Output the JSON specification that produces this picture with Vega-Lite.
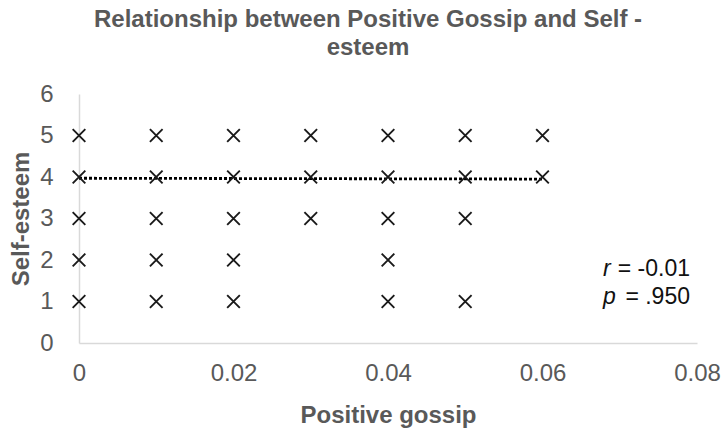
{
  "$schema": "https://vega.github.io/schema/vega-lite/v6.json",
  "width": 618,
  "height": 249,
  "autosize": "none",
  "padding": {"left": 79, "top": 94, "right": 26, "bottom": 85},
  "background": "white",
  "config": {
    "view": {"stroke": null},
    "font": "Liberation Sans"
  },
  "title": {
    "text": ["Relationship between Positive Gossip and Self  -", "esteem"],
    "font": "Liberation Sans",
    "fontSize": 24,
    "fontWeight": "bold",
    "color": "#595959",
    "anchor": "middle",
    "frame": "group",
    "dx": -20,
    "lineHeight": 28,
    "offset": 22
  },
  "datasets": {
    "points": [
      {"gossip": 0, "esteem": 1}, {"gossip": 0, "esteem": 2}, {"gossip": 0, "esteem": 3}, {"gossip": 0, "esteem": 4}, {"gossip": 0, "esteem": 5},
      {"gossip": 0.01, "esteem": 1}, {"gossip": 0.01, "esteem": 2}, {"gossip": 0.01, "esteem": 3}, {"gossip": 0.01, "esteem": 4}, {"gossip": 0.01, "esteem": 5},
      {"gossip": 0.02, "esteem": 1}, {"gossip": 0.02, "esteem": 2}, {"gossip": 0.02, "esteem": 3}, {"gossip": 0.02, "esteem": 4}, {"gossip": 0.02, "esteem": 5},
      {"gossip": 0.03, "esteem": 3}, {"gossip": 0.03, "esteem": 4}, {"gossip": 0.03, "esteem": 5},
      {"gossip": 0.04, "esteem": 1}, {"gossip": 0.04, "esteem": 2}, {"gossip": 0.04, "esteem": 3}, {"gossip": 0.04, "esteem": 4}, {"gossip": 0.04, "esteem": 5},
      {"gossip": 0.05, "esteem": 1}, {"gossip": 0.05, "esteem": 3}, {"gossip": 0.05, "esteem": 4}, {"gossip": 0.05, "esteem": 5},
      {"gossip": 0.06, "esteem": 4}, {"gossip": 0.06, "esteem": 5}
    ],
    "trend": [
      {"gossip": 0, "esteem": 3.97},
      {"gossip": 0.06, "esteem": 3.95}
    ],
    "stats": [
      {"symbol": "r", "value": "= -0.01", "row": 1.614},
      {"symbol": "p", "value": "= .950", "row": 0.94}
    ]
  },
  "layer": [
    {
      "data": {"name": "trend"},
      "mark": {"type": "line", "color": "#000000", "strokeWidth": 2.8, "strokeDash": [3, 2]},
      "encoding": {
        "x": {
          "field": "gossip", "type": "quantitative",
          "scale": {"domain": [0, 0.08], "nice": false, "zero": true},
          "axis": {
            "title": "Positive gossip",
            "values": [0, 0.02, 0.04, 0.06, 0.08],
            "format": "~g",
            "grid": false, "ticks": false,
            "domainColor": "#d9d9d9", "domainWidth": 1.5,
            "labelColor": "#595959", "labelFontSize": 24, "labelFont": "Liberation Sans",
            "labelPadding": 18, "labelFlush": false,
            "titleColor": "#595959", "titleFontSize": 24, "titleFontWeight": "bold", "titleFont": "Liberation Sans",
            "titlePadding": 18
          }
        },
        "y": {
          "field": "esteem", "type": "quantitative",
          "scale": {"domain": [0, 6], "nice": false},
          "axis": {
            "title": "Self-esteem",
            "values": [0, 1, 2, 3, 4, 5, 6],
            "grid": false, "ticks": false,
            "domainColor": "#d9d9d9", "domainWidth": 1.5,
            "labelColor": "#595959", "labelFontSize": 24, "labelFont": "Liberation Sans",
            "labelPadding": 26,
            "titleColor": "#595959", "titleFontSize": 24, "titleFontWeight": "bold", "titleFont": "Liberation Sans",
            "titlePadding": 6
          }
        }
      }
    },
    {
      "data": {"name": "points"},
      "mark": {"type": "point", "shape": "M-1,-1L1,1M-1,1L1,-1", "filled": false, "size": 160, "strokeWidth": 1.9, "color": "#1a1a1a", "opacity": 1},
      "encoding": {
        "x": {"field": "gossip", "type": "quantitative"},
        "y": {"field": "esteem", "type": "quantitative"}
      }
    },
    {
      "data": {"name": "stats"},
      "mark": {"type": "text", "fontStyle": "italic", "fontSize": 23, "align": "left", "baseline": "alphabetic", "color": "#111111", "font": "Liberation Sans"},
      "encoding": {"x": {"datum": 0.06783}, "y": {"field": "row", "type": "quantitative"}, "text": {"field": "symbol"}}
    },
    {
      "data": {"name": "stats"},
      "mark": {"type": "text", "fontSize": 23, "align": "right", "baseline": "alphabetic", "color": "#111111", "font": "Liberation Sans"},
      "encoding": {"x": {"datum": 0.07909}, "y": {"field": "row", "type": "quantitative"}, "text": {"field": "value"}}
    }
  ]
}
